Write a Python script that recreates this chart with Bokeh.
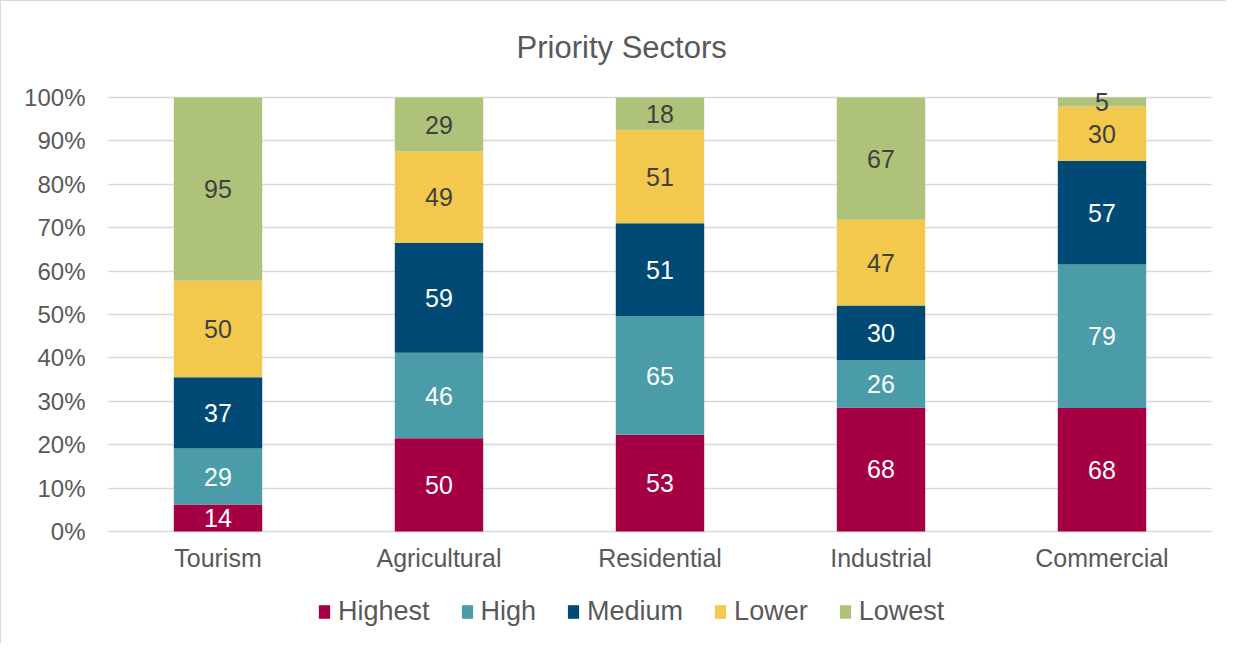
from bokeh.plotting import figure
from bokeh.models import (ColumnDataSource, FactorRange, Range1d, NumeralTickFormatter,
                          FixedTicker, LabelSet, Legend, LegendItem, Label)
from bokeh.core.properties import value
from bokeh.embed import file_html
from bokeh.resources import INLINE

categories = ["Tourism", "Agricultural", "Residential", "Industrial", "Commercial"]
series = ["Highest", "High", "Medium", "Lower", "Lowest"]
highest = [14, 50, 53, 68, 68]
high = [29, 46, 65, 26, 79]
medium = [37, 59, 51, 30, 57]
lower = [50, 49, 51, 47, 30]
lowest = [95, 29, 18, 67, 5]
y_ticks = [0, 0.1, 0.2, 0.3, 0.4, 0.5, 0.6, 0.7, 0.8, 0.9, 1.0]
colors = ["#A50044", "#4A9DA8", "#004A75", "#F2C94C", "#AFC27A"]
label_colors = ["#FFFFFF", "#FFFFFF", "#FFFFFF", "#404040", "#404040"]

FONT = "Liberation Sans"
GRAY = "#595959"

raw = [highest, high, medium, lower, lowest]
totals = [sum(v[i] for v in raw) for i in range(len(categories))]

data = {"cat": categories}
for name, vals in zip(series, raw):
    data[name] = [v / t for v, t in zip(vals, totals)]
source = ColumnDataSource(data)

# frame spans full canvas height; the 0-100% band occupies the middle
p = figure(x_range=FactorRange(*categories, range_padding=0), y_range=Range1d(-0.2604, 1.2212),
           width=1226, height=643, output_backend="svg", toolbar_location=None,
           min_border_left=106, min_border_right=15, min_border_top=0, min_border_bottom=0)
p.styles = {"border-top": "1px solid #d9d9d9", "border-left": "1px solid #d9d9d9"}

renderers = p.vbar_stack(series, x="cat", width=0.4, color=colors, source=source,
                         line_color=None)

# data labels at segment midpoints
cum = [0.0] * len(categories)
for k, (name, vals) in enumerate(zip(series, raw)):
    fr = data[name]
    mids = [c + f / 2 for c, f in zip(cum, fr)]
    cum = [c + f for c, f in zip(cum, fr)]
    ls = ColumnDataSource({"cat": categories, "y": mids, "txt": [str(v) for v in vals]})
    p.add_layout(LabelSet(x="cat", y="y", text="txt", source=ls, text_align="center",
                          text_baseline="middle", text_font=value(FONT),
                          text_font_size="25px", text_color=label_colors[k]))

# category labels under the bars
cat_src = ColumnDataSource({"cat": categories, "y": [-0.0622] * len(categories)})
p.add_layout(LabelSet(x="cat", y="y", text="cat", source=cat_src, text_align="center",
                      text_baseline="middle", text_font=value(FONT),
                      text_font_size="25px", text_color=GRAY))

# title
p.add_layout(Label(x=1.851, y=1.1152, text="Priority Sectors", text_font=FONT,
                   text_font_size="31px", text_color=GRAY, text_baseline="alphabetic"))

p.xaxis.visible = False
p.yaxis.ticker = FixedTicker(ticks=y_ticks)
p.yaxis.formatter = NumeralTickFormatter(format="0%")
p.yaxis.axis_line_color = None
p.yaxis.major_tick_line_color = None
p.yaxis.minor_tick_line_color = None
p.yaxis.major_label_text_font = FONT
p.yaxis.major_label_text_color = GRAY
p.yaxis.major_label_text_font_size = "24px"
p.yaxis.major_label_standoff = 16

p.xgrid.grid_line_color = None
p.ygrid.grid_line_color = "#d9d9d9"
p.ygrid.grid_line_width = 1.5
p.outline_line_color = None

legend = Legend(items=[LegendItem(label=s, renderers=[r]) for s, r in zip(series, renderers)],
                orientation="horizontal", location=(210, 17),
                label_text_font=FONT, label_text_font_size="27px", label_text_color=GRAY,
                glyph_width=14, glyph_height=17, label_standoff=7, spacing=30,
                label_height=30, padding=0, margin=0, border_line_color=None,
                background_fill_alpha=0)
p.add_layout(legend, "center")

open("out.html", "w").write(file_html(p, INLINE))
